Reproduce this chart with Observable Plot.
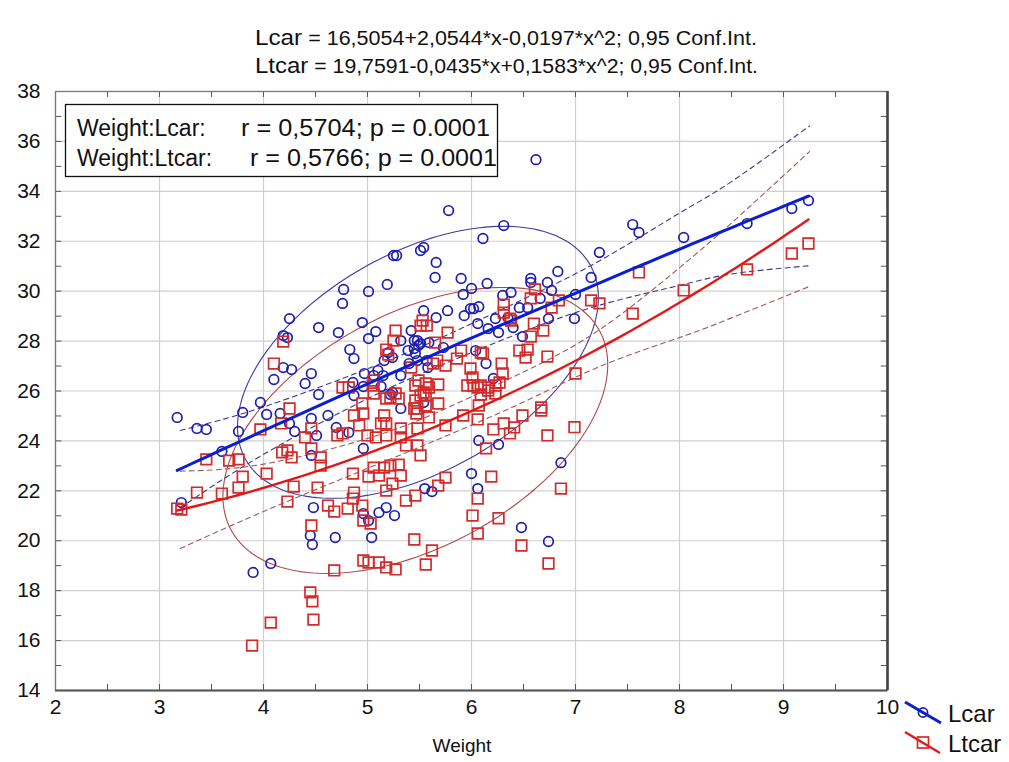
<!DOCTYPE html>
<html><head><meta charset="utf-8">
<script src="https://cdn.jsdelivr.net/npm/d3@7"></script>
<script src="https://cdn.jsdelivr.net/npm/@observablehq/plot@0.6"></script>
<style>
body{margin:0;background:#fff;}
#wrap{position:relative;width:1009px;height:762px;overflow:hidden;background:#fff;}
#wrap svg{position:absolute;left:0;top:0;}
</style></head><body><div id="wrap"></div>
<script>
// ---- data ----
const lcar = [
[3.17,24.94],[3.36,24.50],[3.45,24.46],[3.80,25.14],[3.76,24.38],[3.60,23.58],
[4.25,28.90],[4.19,28.22],[4.23,28.14],[4.19,26.94],[4.27,26.86],[4.10,26.46],
[3.97,25.54],[4.03,25.06],[4.16,25.10],[4.25,24.70],[4.30,24.38],[4.46,26.70],
[4.40,26.30],[4.53,28.54],[4.53,25.86],[4.46,24.90],[4.51,24.22],[4.46,23.42],
[4.62,25.02],[4.70,24.54],[3.21,21.53],[4.48,21.33],[4.45,20.21],[4.47,19.85],
[4.69,20.13],[4.07,19.09],[3.90,18.73],[5.78,33.23],[5.25,31.43],[5.28,31.43],
[5.51,31.63],[5.54,31.75],[5.66,31.15],[5.65,30.55],[4.77,30.07],[4.76,29.51],
[5.01,29.99],[5.19,30.27],[5.90,30.51],[5.92,29.87],[6.00,30.11],[4.72,28.34],
[4.95,28.74],[5.01,28.10],[5.08,28.38],[4.83,27.66],[4.87,27.30],[5.54,29.22],
[5.66,28.94],[5.77,29.22],[5.93,29.02],[5.99,29.30],[5.42,28.42],[5.45,28.02],
[5.49,27.82],[5.46,27.50],[5.32,28.02],[5.16,27.22],[5.20,27.54],[5.39,27.62],
[5.57,27.22],[5.73,27.74],[4.97,26.70],[5.10,26.82],[4.96,26.18],[5.13,26.18],
[5.22,25.86],[5.06,26.62],[5.15,26.62],[5.32,26.62],[5.40,27.10],[5.58,26.94],
[5.48,27.22],[4.86,26.34],[4.87,25.82],[5.24,25.94],[5.32,25.30],[5.54,25.54],
[7.23,31.55],[6.15,30.31],[6.57,30.51],[6.57,30.35],[6.73,30.35],[6.83,30.79],
[7.15,30.55],[6.02,29.30],[6.07,29.38],[6.30,29.83],[6.38,29.95],[6.46,29.34],
[6.54,29.34],[6.66,29.71],[6.77,30.03],[6.74,28.90],[6.99,28.90],[7.00,29.87],
[6.06,28.70],[6.16,28.50],[6.23,28.90],[6.26,28.34],[6.40,28.54],[6.49,28.18],
[6.35,28.94],[6.04,27.62],[6.14,27.10],[6.21,26.50],[6.62,35.27],[6.31,32.63],
[6.11,32.11],[4.82,24.34],[4.96,23.70],[4.96,21.09],[5.01,20.81],[5.11,21.13],
[5.18,21.33],[5.26,21.01],[5.04,20.13],[5.55,22.09],[5.62,21.97],[6.00,22.69],
[6.07,24.02],[6.06,22.09],[6.26,23.86],[6.86,23.13],[6.48,20.53],[6.74,19.97],
[7.55,32.67],[7.61,32.35],[8.04,32.15],[8.65,32.71],[9.08,33.31],[9.24,33.63],
[5.48,28.02],[5.51,27.90],[5.24,27.34],[5.59,27.94],[5.45,27.70]
];
const ltcar = [
[3.17,21.29],[3.21,21.25],[3.36,21.93],[3.45,23.26],[3.60,21.89],[3.67,23.21],
[3.76,23.26],[3.76,22.13],[3.80,22.57],[3.97,24.46],[4.03,22.69],[4.17,24.70],
[4.25,25.30],[4.18,23.54],[4.23,23.62],[4.27,23.34],[4.29,22.17],[4.23,21.57],
[4.40,24.14],[4.46,24.50],[4.46,23.70],[4.55,23.34],[4.55,23.01],[4.52,22.13],
[4.62,21.41],[4.68,21.17],[4.46,20.61],[4.68,18.81],[4.45,17.93],[4.47,17.57],
[4.48,16.84],[4.07,16.72],[3.89,15.80],[4.71,24.22],[4.19,27.98],[4.10,27.10],
[5.53,28.82],[5.51,28.62],[5.57,28.62],[5.27,28.42],[5.77,28.34],[5.25,28.02],
[5.18,27.66],[5.20,27.46],[5.65,27.94],[5.86,27.30],[5.67,27.22],[5.75,27.02],
[5.42,26.94],[4.76,26.14],[4.82,26.14],[5.05,26.22],[5.06,25.90],[5.46,26.22],
[5.56,26.30],[5.68,26.26],[5.54,25.94],[5.22,25.74],[5.46,25.62],[5.56,25.42],
[5.68,25.50],[4.95,25.50],[5.18,25.70],[4.87,25.02],[4.96,25.10],[5.16,25.02],
[4.92,24.62],[5.13,24.70],[5.18,24.70],[5.27,25.90],[5.30,25.70],[5.51,25.82],
[5.56,25.82],[5.45,25.30],[5.48,25.30],[5.47,25.10],[5.59,24.94],[4.76,24.30],
[5.00,24.22],[5.08,24.14],[5.18,24.22],[5.32,24.50],[5.48,24.50],[5.32,24.14],
[5.75,24.62],[5.92,25.02],[5.37,23.82],[5.48,23.82],[5.51,23.42],[4.86,22.69],
[5.06,22.93],[5.01,22.57],[5.11,22.61],[5.16,22.93],[5.22,23.01],[5.30,23.05],
[5.24,22.29],[5.32,22.61],[5.18,22.01],[4.87,21.93],[4.86,21.69],[4.81,21.29],
[4.95,21.41],[5.37,21.61],[5.46,21.81],[5.68,22.21],[5.75,22.53],[4.96,19.21],
[5.01,19.13],[5.11,19.13],[5.18,18.93],[5.27,18.85],[5.45,20.05],[5.62,19.61],
[5.56,19.05],[4.96,20.81],[5.03,20.69],[6.06,21.69],[6.01,21.01],[6.06,20.29],
[6.02,26.22],[6.09,26.22],[6.23,26.22],[6.07,25.42],[6.06,24.86],[6.21,24.46],
[6.31,24.70],[6.41,24.54],[6.37,24.30],[6.49,25.02],[6.67,25.22],[6.73,24.22],
[6.99,24.55],[6.14,23.70],[6.19,22.57],[6.26,20.90],[6.48,19.81],[6.74,19.09],
[6.86,22.09],[6.61,30.07],[6.57,29.71],[6.31,29.46],[6.31,29.14],[6.37,28.90],
[6.77,29.34],[6.84,29.63],[7.15,29.63],[7.23,29.51],[6.60,28.70],[6.69,28.42],
[6.57,28.18],[5.90,27.62],[6.11,27.50],[6.46,27.62],[6.54,27.66],[6.52,27.34],
[6.73,27.38],[6.29,27.10],[6.30,26.70],[5.99,26.90],[6.01,26.54],[5.96,26.22],
[6.06,26.14],[6.27,26.34],[6.16,26.14],[7.00,26.70],[6.23,25.90],[6.09,25.86],
[6.67,25.34],[6.38,28.82],[6.09,27.54],[6.16,26.02],[7.61,30.75],[7.55,29.10],
[8.04,30.03],[8.65,30.87],[9.08,31.51],[9.24,31.91],[5.06,26.42],[5.63,27.10],
[5.49,26.42],[5.59,26.14]
];
// regression coefficients stated in the chart title (a + b*x + c*x^2)
const lcarCoef = [16.5054, 2.0544, -0.0197];
const ltcarCoef = [19.7591, -0.0435, 0.1583];
// 0.95 confidence bands
const ciX        = [3.2, 4, 5, 5.7, 6.5, 7.25, 8, 8.5, 9.25];
const lcarUpper  = [24.42, 25.36, 26.89, 28.12, 29.68, 31.26, 33.13, 34.39, 36.62];
const lcarLower  = [21.32, 23.46, 25.69, 27.02, 28.38, 29.46, 30.23, 30.69, 31.02];
const ltcarUpper = [22.79, 23.07, 24.10, 25.20, 26.76, 28.51, 30.94, 32.73, 35.59];
const ltcarLower = [19.69, 21.17, 22.90, 24.10, 25.56, 27.01, 28.14, 28.93, 30.19];
// ellipses: [centre x, centre y, x radius, y radius, cos(phase)]
const lcarEllipse  = [5.485, 27.15, 1.735, 5.45, 0.475];
const ltcarEllipse = [5.46, 24.42, 1.85, 5.73, 0.46];
// ticks
const xTicks = [2,3,4,5,6,7,8,9,10];
const xMinor = [2.5,3,3.5,4,4.5,5,5.5,6,6.5,7,7.5,8,8.5,9,9.5];
const yTicks = [14,16,18,20,22,24,26,28,30,32,34,36,38];
const yMinor = [15,16,17,18,19,20,21,22,23,24,25,26,27,28,29,30,31,32,33,34,35,36,37];
const titleLines = [
  ["Lcar", " = 16,5054+2,0544*x-0,0197*x^2; 0,95 Conf.Int."],
  ["Ltcar", " = 19,7591-0,0435*x+0,1583*x^2; 0,95 Conf.Int."]
];
const statLines = [
  ["Weight:Lcar:", "r = 0,5704; p = 0.0001"],
  ["Weight:Ltcar:", "r = 0,5766; p = 0.0001"]
];
const seriesNames = ["Lcar", "Ltcar"];
const xLabel = "Weight";

// ---- colours ----
const BLUE_PT = "#1e1eb0", BLUE_LN = "#0a1ed2", BLUE_EL = "#3c3ca0", BLUE_CI = "#3a3a88";
const RED_PT = "#d42a2a", RED_LN = "#e01818", RED_EL = "#b04848", RED_CI = "#a4585a";

// ---- derived series ----
function fitCurve(pts, c) {
  const [x0, x1] = d3.extent(pts, d => d[0]);
  return d3.range(0, 61).map(i => { const x = x0 + (x1 - x0) * i / 60; return {x, y: c[0] + c[1]*x + c[2]*x*x}; });
}
function ellipse([cx, cy, rx, ry, cd]) {
  const dl = Math.acos(cd);
  return d3.range(0, 181).map(i => {
    const t = i / 180 * 2 * Math.PI;
    return {x: cx + rx * Math.cos(t), y: cy + ry * Math.cos(t - dl)};
  });
}
const band = (ys) => ciX.map((x, i) => ({x, y: ys[i]}));

const plot = Plot.plot({
  width: 1009, height: 762,
  marginLeft: 55, marginRight: 122, marginTop: 91, marginBottom: 72,
  style: {fontFamily: "'Liberation Sans', Arial, sans-serif", fontSize: "21px", color: "#111", background: "transparent", overflow: "visible"},
  x: {domain: [2, 10]},
  y: {domain: [14, 38]},
  marks: [
    Plot.gridX(xTicks, {stroke: "#cfcfcf", strokeOpacity: 1, strokeWidth: 1.2}),
    Plot.gridY(yTicks, {stroke: "#cfcfcf", strokeOpacity: 1, strokeWidth: 1.2}),
    Plot.ruleX(xMinor, {y1: 14, y2: 14.24, stroke: "#555"}),
    Plot.ruleX(xMinor, {y1: 38, y2: 37.76, stroke: "#555"}),
    Plot.ruleY(yMinor, {x1: 2, x2: 2.06, stroke: "#555"}),
    Plot.ruleY(yMinor, {x1: 10, x2: 9.94, stroke: "#555"}),
    Plot.axisX(xTicks, {tickSize: 0, tickPadding: 9, label: null}),
    Plot.axisY(yTicks, {tickSize: 0, tickPadding: 15, label: null}),
    Plot.line(ellipse(lcarEllipse), {x: "x", y: "y", stroke: BLUE_EL, strokeWidth: 1.1}),
    Plot.line(ellipse(ltcarEllipse), {x: "x", y: "y", stroke: RED_EL, strokeWidth: 1.1}),
    Plot.line(band(lcarUpper), {x: "x", y: "y", curve: "natural", stroke: BLUE_CI, strokeWidth: 1.1, strokeDasharray: "5,4"}),
    Plot.line(band(lcarLower), {x: "x", y: "y", curve: "natural", stroke: BLUE_CI, strokeWidth: 1.1, strokeDasharray: "5,4"}),
    Plot.line(band(ltcarUpper), {x: "x", y: "y", curve: "natural", stroke: RED_CI, strokeWidth: 1.1, strokeDasharray: "5,4"}),
    Plot.line(band(ltcarLower), {x: "x", y: "y", curve: "natural", stroke: RED_CI, strokeWidth: 1.1, strokeDasharray: "5,4"}),
    Plot.dot(lcar, {x: d => d[0], y: d => d[1], r: 4.8, stroke: BLUE_PT, strokeWidth: 1.7, fill: "none"}),
    Plot.dot(ltcar, {x: d => d[0], y: d => d[1], symbol: "square", r: 6, stroke: RED_PT, strokeWidth: 1.7, fill: "none"}),
    Plot.line(fitCurve(ltcar, ltcarCoef), {x: "x", y: "y", stroke: RED_LN, strokeWidth: 2.4}),
    Plot.line(fitCurve(lcar, lcarCoef), {x: "x", y: "y", stroke: BLUE_LN, strokeWidth: 3}),
    Plot.frame({stroke: "#777", strokeWidth: 1.3}),
    Plot.ruleX([10], {stroke: "#444", strokeWidth: 2.6}),
    Plot.ruleY([14], {stroke: "#555", strokeWidth: 1.8})
  ]
});
const wrap = document.getElementById("wrap");
wrap.appendChild(plot);

// ---- overlay texts: title, stats box, x label, legend ----
const svg = d3.select(wrap).append("svg")
  .attr("width", 1009).attr("height", 762)
  .style("font-family", "'Liberation Sans', Arial, sans-serif");

titleLines.forEach((ln, i) => {
  const t = svg.append("text").attr("x", 255).attr("y", 45 + i*28)
    .attr("font-family", "'Liberation Sans', Arial, sans-serif").attr("fill", "#111")
    .attr("textLength", i === 0 ? 502 : 503).attr("lengthAdjust", "spacingAndGlyphs");
  t.append("tspan").attr("font-size", 22).text(ln[0]);
  t.append("tspan").attr("font-size", 19.5).text(ln[1]);
});

// stats box
svg.append("rect").attr("x", 65.5).attr("y", 104.5).attr("width", 432).attr("height", 72)
  .attr("fill", "#fff").attr("stroke", "#111").attr("stroke-width", 1.3);
const statX = [[77, 241], [77, 250]];
const statEnd = [490, 497];
statLines.forEach((ln, i) => {
  const y = 136 + i*30;
  svg.append("text").attr("x", statX[i][0]).attr("y", y).attr("font-size", 23).attr("fill", "#111").text(ln[0]);
  svg.append("text").attr("x", statX[i][1]).attr("y", y).attr("font-size", 23).attr("fill", "#111")
    .attr("textLength", statEnd[i] - statX[i][1]).attr("lengthAdjust", "spacingAndGlyphs").text(ln[1]);
});

// x axis label
svg.append("text").attr("x", 462).attr("y", 752).attr("text-anchor", "middle")
  .attr("font-size", 19).attr("fill", "#111").text(xLabel);

// legend
const lg = svg.append("g");
lg.append("line").attr("x1", 905).attr("y1", 702).attr("x2", 941).attr("y2", 723).attr("stroke", BLUE_LN).attr("stroke-width", 3);
lg.append("circle").attr("cx", 923).attr("cy", 712.5).attr("r", 4.6).attr("fill", "none").attr("stroke", BLUE_PT).attr("stroke-width", 1.7);
lg.append("text").attr("x", 948).attr("y", 722).attr("font-size", 24).attr("fill", "#111").text(seriesNames[0]);
lg.append("line").attr("x1", 905).attr("y1", 732).attr("x2", 940).attr("y2", 753).attr("stroke", RED_LN).attr("stroke-width", 2.4);
lg.append("rect").attr("x", 917.5).attr("y", 737).attr("width", 11).attr("height", 11).attr("fill", "none").attr("stroke", RED_PT).attr("stroke-width", 1.7);
lg.append("text").attr("x", 948).attr("y", 752).attr("font-size", 24).attr("fill", "#111").text(seriesNames[1]);
</script></body></html>
